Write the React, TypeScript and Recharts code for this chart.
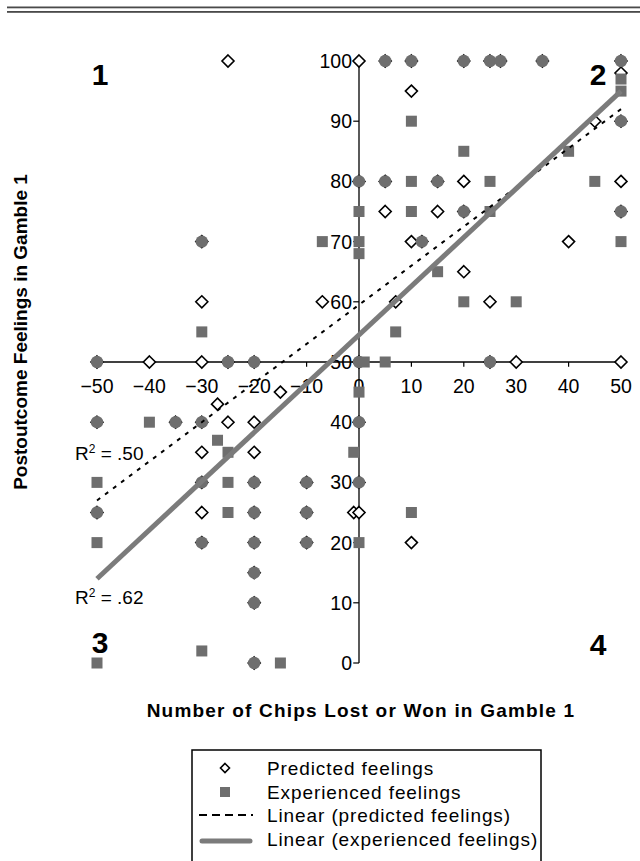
import React from 'react';
import {
  ScatterChart,
  Scatter,
  XAxis,
  YAxis,
  ReferenceLine,
  ReferenceDot,
} from 'recharts';

// [chips, feeling] pairs
const predicted: [number, number][] = [
  [-25, 100], [0, 100], [5, 100], [10, 100], [20, 100], [25, 100], [27, 100], [35, 100], [50, 100],
  [50, 98], [10, 95], [50, 90], [45, 90],
  [0, 80], [5, 80], [15, 80], [20, 80], [50, 80],
  [5, 75], [15, 75], [20, 75], [50, 75],
  [-30, 70], [12, 70], [10, 70], [40, 70], [20, 65],
  [-30, 60], [-7, 60], [7, 60], [25, 60],
  [-50, 50], [-40, 50], [-30, 50], [-25, 50], [-20, 50], [0, 50], [25, 50], [30, 50], [50, 50],
  [-15, 45], [-27, 43],
  [-50, 40], [-35, 40], [-30, 40], [-25, 40], [-20, 40], [0, 40],
  [-30, 35], [-20, 35],
  [-30, 30], [-20, 30], [-10, 30], [0, 30],
  [-50, 25], [-30, 25], [-20, 25], [-10, 25], [-1, 25], [0, 25],
  [-30, 20], [-20, 20], [-10, 20], [10, 20],
  [-20, 15], [-20, 10], [-20, 0],
];

const experienced: [number, number][] = [
  [5, 100], [10, 100], [20, 100], [25, 100], [27, 100], [35, 100], [50, 100],
  [50, 97], [50, 95], [10, 90], [50, 90], [20, 85], [40, 85],
  [0, 80], [5, 80], [10, 80], [15, 80], [25, 80], [45, 80],
  [0, 75], [10, 75], [20, 75], [25, 75], [50, 75],
  [-30, 70], [-7, 70], [0, 70], [12, 70], [50, 70], [0, 68],
  [15, 65], [20, 60], [30, 60], [-30, 55], [7, 55],
  [-50, 50], [-25, 50], [-20, 50], [0, 50], [1, 50], [5, 50], [25, 50],
  [0, 45],
  [-50, 40], [-40, 40], [-35, 40], [-30, 40], [0, 40],
  [-27, 37], [-25, 35], [-1, 35],
  [-50, 30], [-30, 30], [-25, 30], [-20, 30], [-10, 30], [0, 30],
  [-50, 25], [-25, 25], [-20, 25], [-10, 25], [10, 25],
  [-50, 20], [-30, 20], [-20, 20], [-10, 20], [0, 20],
  [-20, 15], [-20, 10], [-30, 2],
  [-50, 0], [-20, 0], [-15, 0],
];

const trendPredicted = [
  { x: -50, y: 27 },
  { x: 50, y: 92 },
];
const trendExperienced = [
  { x: -50, y: 14 },
  { x: 50, y: 95 },
];

const xTicks = [-50, -40, -30, -20, -10, 0, 10, 20, 30, 40, 50];
const yTicks = [0, 10, 20, 30, 40, 50, 60, 70, 80, 90, 100];

const legendItems = [
  'Predicted feelings',
  'Experienced feelings',
  'Linear (predicted feelings)',
  'Linear (experienced feelings)',
];

const FONT = '"Liberation Sans", Arial, Helvetica, sans-serif';
const GRAY = '#6e6e6e';
const LINE_GRAY = '#7b7b7b';

const predKeys = new Set(predicted.map(([x, y]) => `${x},${y}`));

const Diamond = (props: any) => {
  const { cx, cy } = props;
  const h = 6;
  return (
    <path
      d={`M${cx},${cy - h}L${cx + h},${cy}L${cx},${cy + h}L${cx - h},${cy}Z`}
      fill="#fff"
      stroke="#000"
      strokeWidth={1.6}
    />
  );
};

const Square = (props: any) => {
  const { cx, cy, payload } = props;
  // where a predicted diamond sits underneath, the marker reads as a round blob
  if (payload && predKeys.has(`${payload.x},${payload.y}`)) {
    return <circle cx={cx} cy={cy} r={6.2} fill={GRAY} />;
  }
  return <rect x={cx - 5.5} y={cy - 5.5} width={11} height={11} fill={GRAY} />;
};

const NoDot = () => <g />;

const fmt = (v: number) => (v < 0 ? `\u2212${-v}` : `${v}`);

export default function App() {
  const predData = predicted.map(([x, y]) => ({ x, y }));
  const expData = experienced.map(([x, y]) => ({ x, y }));

  return (
    <div style={{ position: 'absolute', left: 0, top: 0, width: 640, height: 861, background: '#fff' }}>
      <ScatterChart
        width={640}
        height={700}
        margin={{ top: 61, right: 19, bottom: 37, left: 97 }}
      >
        <XAxis type="number" dataKey="x" domain={[-50, 50]} hide />
        <YAxis type="number" dataKey="y" domain={[0, 100]} hide />

        <ReferenceLine y={50} stroke="#000" strokeWidth={1.3} />
        <ReferenceLine x={0} stroke="#000" strokeWidth={1.3} />
        {xTicks.map((v) => (
          <ReferenceLine
            key={`xt${v}`}
            segment={[{ x: v, y: 50 }, { x: v, y: 49.2 }]}
            stroke="#000"
            strokeWidth={1.2}
          />
        ))}
        {yTicks.map((v) => (
          <ReferenceLine
            key={`yt${v}`}
            segment={[{ x: 0, y: v }, { x: -1.1, y: v }]}
            stroke="#000"
            strokeWidth={1.2}
          />
        ))}
        {xTicks.map((v) => (
          <ReferenceDot
            key={`xl${v}`}
            x={v}
            y={50}
            r={0}
            shape={(p: any) => (
              <text
                x={p.cx}
                y={p.cy + 31}
                textAnchor="middle"
                fontFamily={FONT}
                fontSize={19.5}
                fill="#000"
              >
                {fmt(v)}
              </text>
            )}
          />
        ))}
        {yTicks.map((v) => (
          <ReferenceDot
            key={`yl${v}`}
            x={0}
            y={v}
            r={0}
            shape={(p: any) => (
              <text
                x={p.cx - 7}
                y={p.cy + 7}
                textAnchor="end"
                fontFamily={FONT}
                fontSize={19.5}
                fill="#000"
              >
                {fmt(v)}
              </text>
            )}
          />
        ))}

        <Scatter data={predData} shape={Diamond} isAnimationActive={false} />
        <Scatter data={expData} shape={Square} isAnimationActive={false} />
        <Scatter
          data={trendPredicted}
          shape={NoDot}
          line={{ stroke: '#000', strokeWidth: 2, strokeDasharray: '4 6' }}
          isAnimationActive={false}
        />
        <Scatter
          data={trendExperienced}
          shape={NoDot}
          line={{ stroke: LINE_GRAY, strokeWidth: 5 }}
          isAnimationActive={false}
        />
      </ScatterChart>

      <svg
        width={640}
        height={861}
        style={{ position: 'absolute', left: 0, top: 0, pointerEvents: 'none' }}
      >
        <rect x={7} y={6.5} width={633} height={1.8} fill="#4a4a4a" />
        <rect x={7} y={11} width={633} height={1.8} fill="#4a4a4a" />

        <g fontFamily={FONT} fontWeight="bold" fontSize={30} fill="#000" textAnchor="middle">
          <text x={100} y={85}>1</text>
          <text x={598} y={85}>2</text>
          <text x={100} y={653}>3</text>
          <text x={598} y={655}>4</text>
        </g>

        <g fontFamily={FONT} fontSize={19} fill="#000">
          <text x={75} y={460}>
            R<tspan dy={-7} fontSize={12}>2</tspan>
            <tspan dy={7}> = .50</tspan>
          </text>
          <text x={75} y={604}>
            R<tspan dy={-7} fontSize={12}>2</tspan>
            <tspan dy={7}> = .62</tspan>
          </text>
        </g>

        <text
          transform="translate(27,332) rotate(-90)"
          textAnchor="middle"
          fontFamily={FONT}
          fontWeight="bold"
          fontSize={19}
          fill="#000"
        >
          Postoutcome Feelings in Gamble 1
        </text>
        <text
          x={361}
          y={717}
          textAnchor="middle"
          fontFamily={FONT}
          fontWeight="bold"
          fontSize={19}
          letterSpacing={1.2}
          fill="#000"
        >
          Number of Chips Lost or Won in Gamble 1
        </text>

        <rect x={192} y={750} width={349} height={130} fill="none" stroke="#000" strokeWidth={1.5} />
        <path d="M225,763.5L229.5,768L225,772.5L220.5,768Z" fill="#fff" stroke="#000" strokeWidth={1.6} />
        <rect x={220} y={787} width={10} height={10} fill={GRAY} />
        <line x1={199} y1={815} x2={253} y2={815} stroke="#000" strokeWidth={2} strokeDasharray="8 5" />
        <line x1={202} y1={841} x2={250} y2={841} stroke={LINE_GRAY} strokeWidth={5} strokeLinecap="round" />
        <g fontFamily={FONT} fontSize={19} letterSpacing={0.9} fill="#000">
          {legendItems.map((t, i) => (
            <text key={t} x={267} y={775 + i * 23.5}>
              {t}
            </text>
          ))}
        </g>
      </svg>
    </div>
  );
}
